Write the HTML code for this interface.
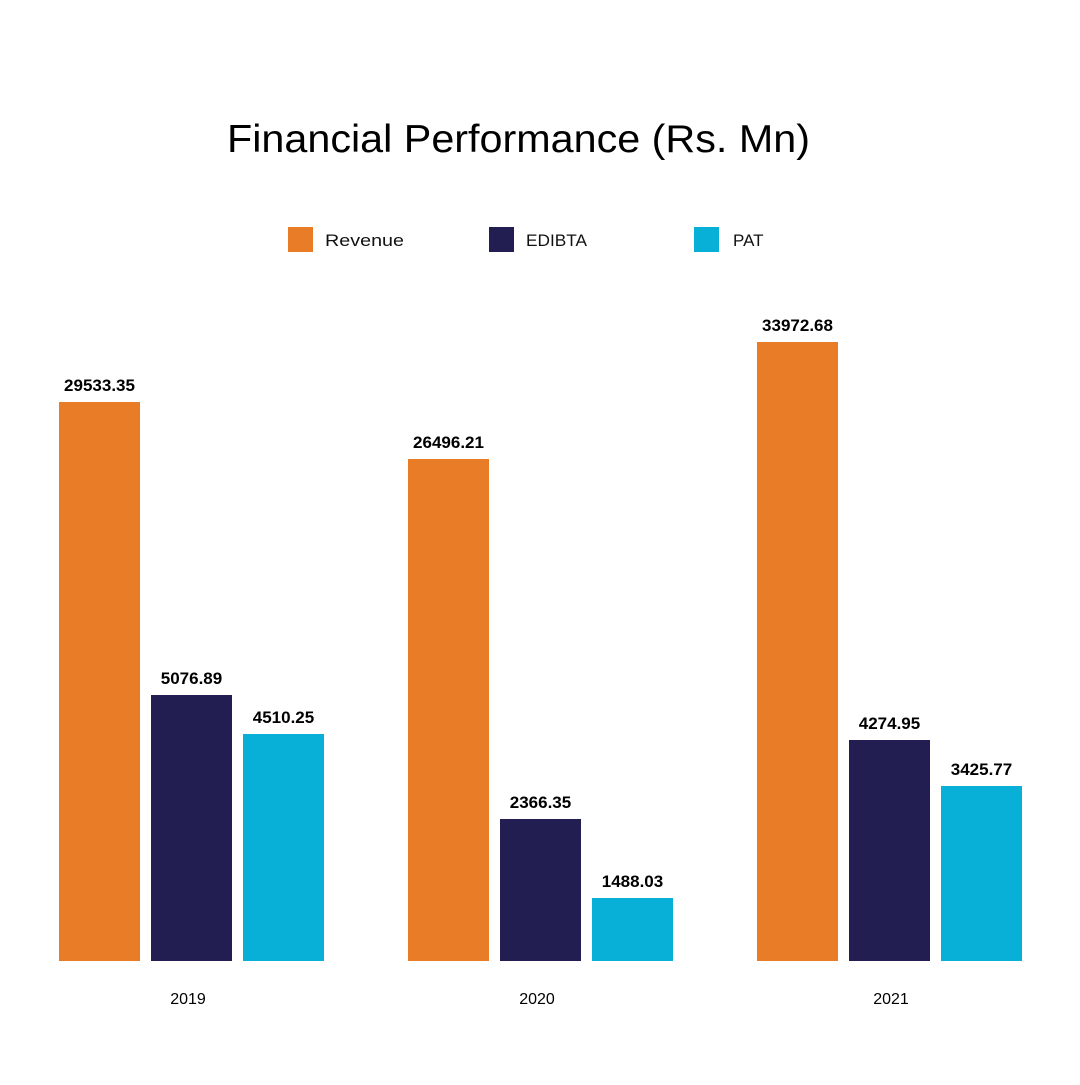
<!DOCTYPE html>
<html><head><style>
body{margin:0;width:1080px;height:1080px;background:#fff;overflow:hidden}
svg text{font-family:"Liberation Sans",sans-serif}
</style></head><body>
<svg width="1080" height="1080" xmlns="http://www.w3.org/2000/svg">
<text x="227" y="152" font-size="39" textLength="583" lengthAdjust="spacingAndGlyphs" fill="#000">Financial Performance (Rs. Mn)</text>
<rect x="288" y="227" width="25" height="25" fill="#E87C27"/>
<text x="325" y="246" font-size="17" font-weight="500" textLength="79" lengthAdjust="spacingAndGlyphs" fill="#111">Revenue</text>
<rect x="489" y="227" width="25" height="25" fill="#221E51"/>
<text x="526" y="246" font-size="17" textLength="61" lengthAdjust="spacingAndGlyphs" fill="#111">EDIBTA</text>
<rect x="694" y="227" width="25" height="25" fill="#08AFD6"/>
<text x="733" y="246" font-size="17" fill="#111">PAT</text>
<g font-size="17" font-weight="bold" text-anchor="middle" fill="#000">
<rect x="59" y="402" width="81" height="559" fill="#E87C27"/><text x="99.5" y="391">29533.35</text>
<rect x="151" y="695" width="81" height="266" fill="#221E51"/><text x="191.5" y="684">5076.89</text>
<rect x="243" y="734" width="81" height="227" fill="#08AFD6"/><text x="283.5" y="723">4510.25</text>
<rect x="408" y="459" width="81" height="502" fill="#E87C27"/><text x="448.5" y="448">26496.21</text>
<rect x="500" y="819" width="81" height="142" fill="#221E51"/><text x="540.5" y="808">2366.35</text>
<rect x="592" y="898" width="81" height="63" fill="#08AFD6"/><text x="632.5" y="887">1488.03</text>
<rect x="757" y="342" width="81" height="619" fill="#E87C27"/><text x="797.5" y="331">33972.68</text>
<rect x="849" y="740" width="81" height="221" fill="#221E51"/><text x="889.5" y="729">4274.95</text>
<rect x="941" y="786" width="81" height="175" fill="#08AFD6"/><text x="981.5" y="775">3425.77</text>
</g>
<g font-size="16" text-anchor="middle" fill="#000">
<text x="188" y="1004">2019</text><text x="537" y="1004">2020</text><text x="891" y="1004">2021</text>
</g>
</svg>
</body></html>
